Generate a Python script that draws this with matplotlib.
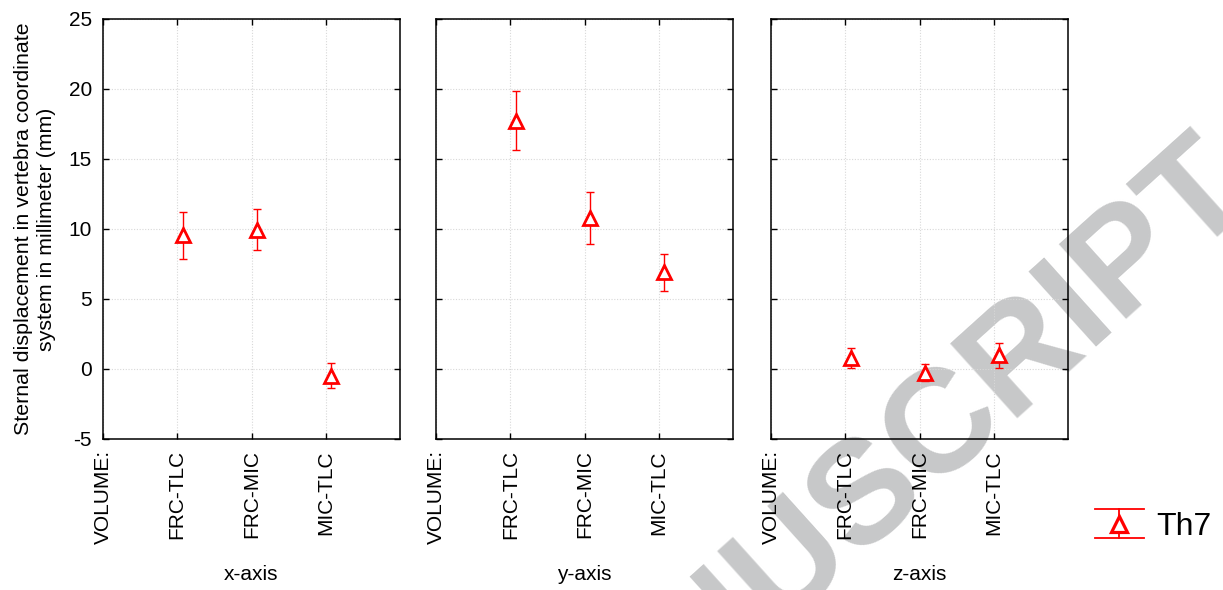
import matplotlib
matplotlib.use("Agg")
import matplotlib.pyplot as plt
from matplotlib.legend_handler import HandlerBase
from matplotlib.lines import Line2D

plt.rcParams["font.family"] = ["Liberation Sans", "DejaVu Sans"]

# Categories and measurements (mean +/- error, mm)
volume_labels = ["VOLUME:", "FRC-TLC", "FRC-MIC", "MIC-TLC"]
panel_titles = ["x-axis", "y-axis", "z-axis"]
series_name = "Th7"

x_axis_mean = [9.55, 9.95, -0.47]
x_axis_err = [1.69, 1.47, 0.90]
y_axis_mean = [17.73, 10.80, 6.90]
y_axis_err = [2.10, 1.85, 1.35]
z_axis_mean = [0.80, -0.25, 0.98]
z_axis_err = [0.71, 0.62, 0.90]

y_ticks = [-5, 0, 5, 10, 15, 20, 25]

RED = "#ff0000"
W, H = 1223, 590
fig = plt.figure(figsize=(W / 100, H / 100), dpi=100)

panel_left = [103, 436, 771]
ax_w, ax_top, ax_bot = 297, 19, 439

data = [(x_axis_mean, x_axis_err), (y_axis_mean, y_axis_err), (z_axis_mean, z_axis_err)]
xpos = [1.075, 2.075, 3.075]

axes = []
for i, (means, errs) in enumerate(data):
    ax = fig.add_axes([panel_left[i] / W, 1 - ax_bot / H, ax_w / W, (ax_bot - ax_top) / H])
    ax.set_facecolor("none")
    ax.set_zorder(1)
    ax.errorbar(xpos, means, yerr=errs, fmt="none", ecolor=RED, elinewidth=1.0,
                capsize=3.2, capthick=1.0, zorder=3)
    ax.plot(xpos, means, linestyle="none", marker="^", markersize=9.5,
            markerfacecolor="white", markeredgecolor=RED, markeredgewidth=2.0, zorder=4)
    ax.set_xlim(0, 4)
    ax.set_ylim(-5, 25)
    ax.set_xticks(range(4))
    ax.set_xticklabels(volume_labels, rotation=90, fontsize=15, va="top")
    ax.set_yticks(y_ticks)
    ax.set_yticklabels([str(t) for t in y_ticks], fontsize=15)
    if i > 0:
        ax.tick_params(axis="y", labelleft=False)
    ax.tick_params(direction="in", length=4, width=1.0, top=True, right=True,
                   pad=8, colors="black")
    ax.tick_params(axis="x", pad=8)
    ax.grid(True, linestyle=(0, (1, 1.5)), color="#d8d8d8", linewidth=0.8, zorder=0)
    ax.set_axisbelow(True)
    for s in ax.spines.values():
        s.set_linewidth(1.1)
        s.set_color("black")
    ax.set_xlabel(panel_titles[i], fontsize=15, labelpad=15)
    axes.append(ax)

axes[0].set_ylabel("Sternal displacement in vertebra coordinate\nsystem in millimeter (mm)",
                   fontsize=15.4, labelpad=9, linespacing=1.3)


class ErrTriangleHandler(HandlerBase):
    def create_artists(self, legend, orig_handle, xdescent, ydescent, width, height,
                       fontsize, trans):
        x0 = -xdescent
        x1 = x0 + width
        xc = (x0 + x1) / 2
        yc = height / 2 - ydescent
        half = 10.4
        arts = [
            Line2D([x0, x1], [yc + half, yc + half], color=RED, lw=1.3),
            Line2D([x0, x1], [yc - half, yc - half], color=RED, lw=1.3),
            Line2D([xc, xc], [yc - half, yc + half], color=RED, lw=1.3),
            Line2D([xc], [yc], marker="^", markersize=11.5, markerfacecolor="white",
                   markeredgecolor=RED, markeredgewidth=2.3, linestyle="none"),
        ]
        for a in arts:
            a.set_transform(trans)
        return arts


proxy = Line2D([], [], color=RED)
fig.legend([proxy], [series_name], handler_map={Line2D: ErrTriangleHandler()},
           loc="center left", bbox_to_anchor=(1095 / W, 1 - 527 / H), frameon=False,
           fontsize=23, handlelength=1.53, handletextpad=0.40, borderpad=0,
           borderaxespad=0)

fig.text(1260 / W, 1 - 200 / H, "ACCEPTED MANUSCRIPT", rotation=42, rotation_mode="anchor",
         ha="right", va="baseline", fontsize=106, fontweight="bold", color="#c7c8c9",
         zorder=-1)

fig.savefig("out.png", dpi=100)
